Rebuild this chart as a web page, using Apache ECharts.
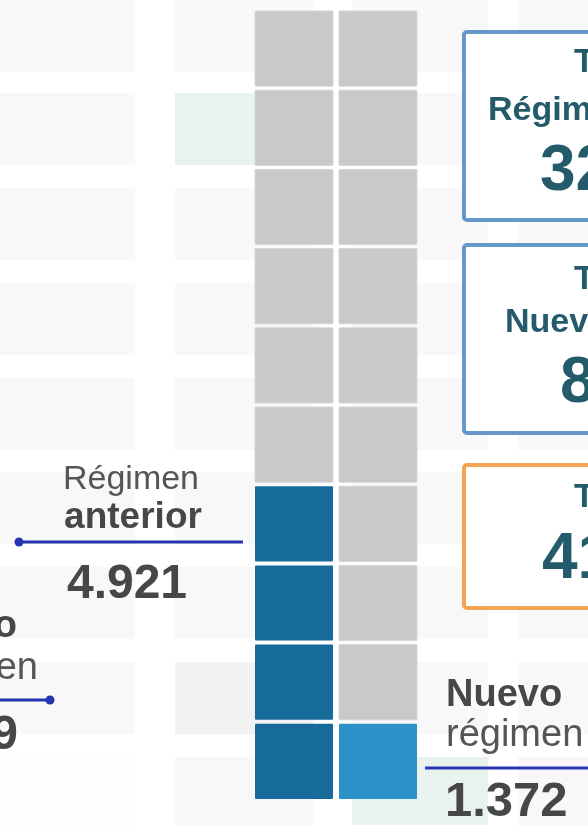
<!DOCTYPE html>
<html lang="es">
<head>
<meta charset="UTF-8">
<title>Régimen anterior y nuevo régimen</title>
<script src="https://cdn.jsdelivr.net/npm/echarts@6/dist/echarts.min.js"></script>
<style>
  html, body { margin: 0; padding: 0; background: #fff; }
  #main { width: 588px; height: 825px; }
</style>
</head>
<body>
<div id="main"></div>
<script>
// datos
var categorias = ['Régimen anterior', 'Nuevo régimen'];
var cifras = ['4.921', '1.372'];
var cuadrosLlenos = [4, 1];          // cuadros coloreados en cada columna
var filas = ['1', '2', '3', '4', '5', '6', '7', '8', '9', '10'];

// recuadros de totales (cortados por el borde derecho)
var totalTitulos = ['Total', 'Total', 'Total'];
var totalSubtitulos = ['Régimen anterior', 'Nuevo régimen', ''];
var totalCifras = ['32', '8', '41'];

var colores = ['#176b9b', '#2b91c7'];
var gris = '#c9c9c9';
var azulLinea = '#2535b0';
var texto = '#474747';
var teal = '#245b6b';
var fuente = '"Liberation Sans", Arial, sans-serif';

var mChart = echarts.init(document.getElementById('main'));

// cuadros de la rejilla
var celdas = [];
categorias.forEach(function (cat, c) {
  filas.forEach(function (f, r) {
    celdas.push([c, r, r < cuadrosLlenos[c] ? 1 : 0]);
  });
});

// fondo: baldosas muy claras
var fondo = [];
var colsX = [[-40, 135], [175, 313], [352, 488], [518, 660]];
var filasY = [-20, 93, 188, 283, 378, 472, 567, 662, 757];
var especiales = {'1-1': '#e9f3ed', '2-8': '#e9f3ed', '1-7': '#f2f2f2', '0-8': '#fdfdfd'};
colsX.forEach(function (cx, i) {
  filasY.forEach(function (y, j) {
    var h = j === 0 ? 92 : 72;
    fondo.push({
      type: 'rect', z: 0, silent: true,
      shape: {x: cx[0], y: y, width: cx[1] - cx[0], height: h},
      style: {fill: especiales[i + '-' + j] || '#f8f8f8'}
    });
  });
});

function txt(s, x, y, size, weight, color, align) {
  return {
    type: 'text', z: 20, silent: true,
    style: {
      text: s, x: x, y: y, fill: color,
      fontSize: size, fontWeight: weight, fontFamily: fuente,
      align: align || 'center', verticalAlign: 'middle'
    }
  };
}
function linea(x1, x2, y, dotX) {
  return [
    {type: 'line', z: 20, silent: true, shape: {x1: x1, y1: y, x2: x2, y2: y},
     style: {stroke: azulLinea, lineWidth: 3}},
    {type: 'circle', z: 21, silent: true, shape: {cx: dotX, cy: y, r: 4.5},
     style: {fill: azulLinea}}
  ];
}

var cajas = [
  {y: 32, h: 188, borde: '#6597c9', filasTexto: [63, 111, 172], subX: 488, cifraX: 540},
  {y: 245, h: 188, borde: '#6597c9', filasTexto: [280, 323, 384], subX: 505, cifraX: 560},
  {y: 465, h: 143, borde: '#f5a552', filasTexto: [498, null, 560], subX: 0, cifraX: 542}
];
var etiquetas = [];
cajas.forEach(function (b, i) {
  etiquetas.push({
    type: 'rect', z: 15, silent: true,
    shape: {x: 464, y: b.y, width: 160, height: b.h, r: 3},
    style: {fill: '#fff', stroke: b.borde, lineWidth: 4}
  });
  etiquetas.push(txt(totalTitulos[i], 574, b.filasTexto[0], 34, 'bold', teal, 'left'));
  if (b.filasTexto[1] !== null) {
    etiquetas.push(txt(totalSubtitulos[i], b.subX, b.filasTexto[1], 34, 'bold', teal, 'left'));
  }
  etiquetas.push(txt(totalCifras[i], b.cifraX, b.filasTexto[2], 64, 'bold', teal, 'left'));
});

// etiqueta de la columna izquierda
var partes = categorias[0].split(' ');
etiquetas.push(txt(partes[0], 131, 480, 34, 'normal', '#555'));
etiquetas.push(txt(partes[1], 133, 518, 37, 'bold', texto));
etiquetas = etiquetas.concat(linea(19, 243, 542, 19));
etiquetas.push(txt(cifras[0], 127, 585, 48, 'bold', texto));

// etiqueta de la columna derecha
var partes2 = categorias[1].split(' ');
etiquetas.push(txt(partes2[0], 446, 696, 38, 'bold', texto, 'left'));
etiquetas.push(txt(partes2[1], 446, 736, 38, 'normal', '#555', 'left'));
etiquetas = etiquetas.concat(linea(425, 600, 768, 425).slice(0, 1));
etiquetas.push(txt(cifras[1], 445, 802, 49, 'bold', texto, 'left'));

// restos del gráfico vecino a la izquierda
etiquetas.push(txt('Nuevo', 17, 627, 38, 'bold', texto, 'right'));
etiquetas.push(txt('régimen', 38, 669, 38, 'normal', '#555', 'right'));
etiquetas = etiquetas.concat(linea(-10, 50, 700, 50));
etiquetas.push(txt('9', 18, 736, 48, 'bold', texto, 'right'));

var option = {
  animation: false,
  backgroundColor: '#fff',
  grid: {left: 252, top: 9, width: 168, height: 792},
  xAxis: {type: 'category', data: categorias, show: false},
  yAxis: {type: 'category', data: filas, show: false},
  graphic: {elements: fondo.concat(etiquetas)},
  series: [{
    type: 'custom',
    z: 5,
    data: celdas,
    renderItem: function (params, api) {
      var c = api.value(0), on = api.value(2);
      var p = api.coord([c, api.value(1)]);
      var band = api.size([1, 1]);
      var w = band[0] - 6, h = band[1] - 4;
      return {
        type: 'rect',
        shape: {x: p[0] - w / 2, y: p[1] - h / 2, width: w, height: h, r: 1},
        style: {fill: on ? colores[c] : gris, stroke: on ? null : '#d6d6d6', lineWidth: 1}
      };
    }
  }]
};
mChart.setOption(option);
</script>
</body>
</html>
